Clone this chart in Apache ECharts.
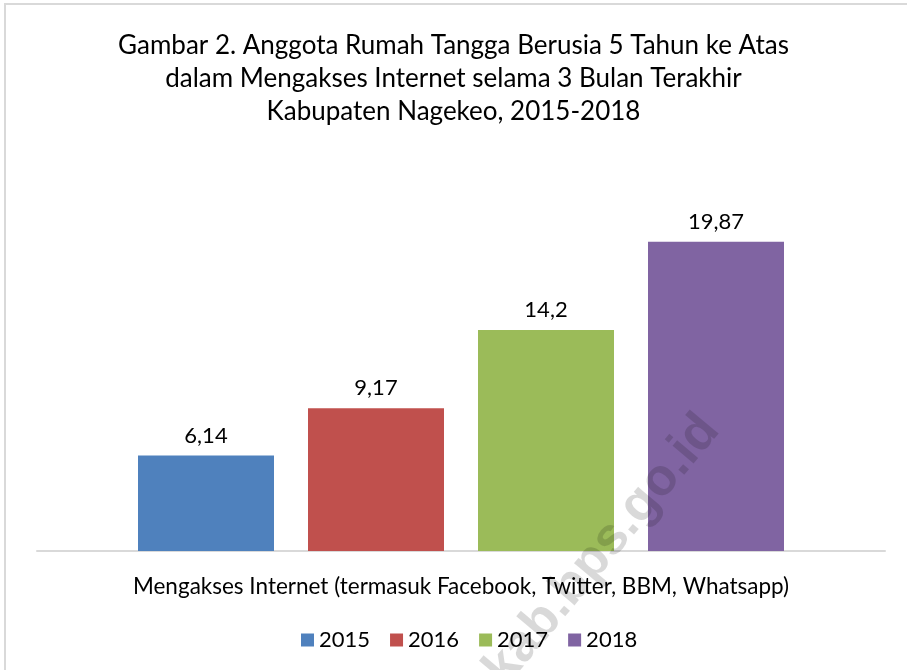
<!DOCTYPE html>
<html>
<head>
<meta charset="utf-8">
<script src="https://cdn.jsdelivr.net/npm/echarts@6/dist/echarts.min.js"></script>
<style>
  html, body { margin: 0; padding: 0; background: #fff; }
  #main { width: 907px; height: 670px; }
</style>
</head>
<body>
<div id="main"></div>
<script>
var chart = echarts.init(document.getElementById('main'));

// data
var kategori = ['Mengakses Internet (termasuk Facebook, Twitter, BBM, Whatsapp)'];
var tahun = ['2015', '2016', '2017', '2018'];
var nilai = [6.14, 9.17, 14.2, 19.87];
var warna = ['#4f81bd', '#c0504d', '#9bbb59', '#8064a2'];

var huruf = 'Lato, "Open Sans", sans-serif';

var seri = tahun.map(function (t, i) {
  return {
    name: t,
    type: 'bar',
    data: [nilai[i]],
    barWidth: 136,
    barGap: '25%',
    itemStyle: { color: warna[i] },
    label: {
      show: true,
      position: 'top',
      distance: 9,
      color: '#000',
      fontFamily: huruf,
      fontSize: 22,
      // angka pakai koma desimal
      formatter: function (p) { return String(p.value).replace('.', ','); }
    }
  };
});

var option = {
  backgroundColor: '#fff',
  animation: false,
  title: {
    text: 'Gambar 2. Anggota Rumah Tangga Berusia 5 Tahun ke Atas\ndalam Mengakses Internet selama 3 Bulan Terakhir\nKabupaten Nagekeo, 2015-2018',
    left: 'center',
    top: 24,
    textStyle: {
      fontFamily: huruf,
      fontSize: 26,
      fontWeight: 'normal',
      color: '#000',
      lineHeight: 33
    }
  },
  legend: {
    data: tahun,
    left: 296,
    top: 624,
    icon: 'rect',
    itemWidth: 13,
    itemHeight: 13,
    itemGap: 20,
    textStyle: { fontFamily: huruf, fontSize: 22, color: '#000' }
  },
  grid: { left: 37, right: 22, top: 162, bottom: 119 },
  xAxis: {
    type: 'category',
    data: kategori,
    axisLine: { lineStyle: { color: '#d9d9d9', width: 2 } },
    axisTick: { show: false },
    axisLabel: { color: '#000', fontFamily: huruf, fontSize: 22.5, margin: 24 }
  },
  yAxis: {
    type: 'value',
    min: 0,
    max: 25,
    show: false
  },
  series: seri,
  graphic: [
    {
      type: 'rect',
      shape: { x: 5, y: 4, width: 920, height: 720 },
      style: { fill: 'none', stroke: '#d9d9d9', lineWidth: 2 },
      silent: true
    },
    {
      // watermark
      type: 'text',
      x: 690,
      y: 405,
      rotation: 50 * Math.PI / 180,
      z: 100,
      silent: true,
      style: {
        text: 'nagekeokab.bps.go.id',
        fontFamily: '"Liberation Sans", Arial, sans-serif',
        fontWeight: 'bold',
        fontSize: 52,
        fill: 'rgba(0,0,0,0.15)',
        textAlign: 'right',
        textVerticalAlign: 'top'
      }
    }
  ]
};

chart.setOption(option);
</script>
</body>
</html>
